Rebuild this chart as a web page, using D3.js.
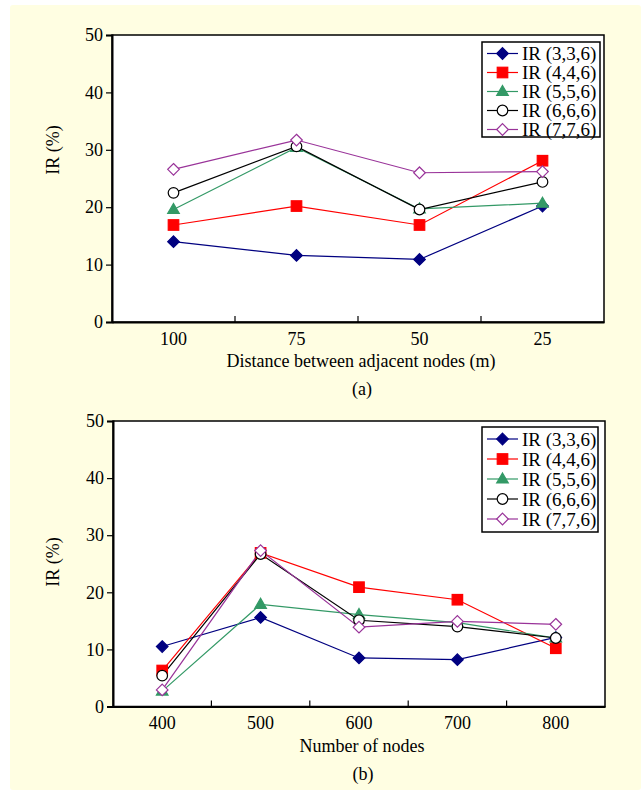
<!DOCTYPE html>
<html>
<head>
<meta charset="utf-8">
<script src="https://cdn.jsdelivr.net/npm/d3@7"></script>
<style>
  html, body { margin: 0; padding: 0; background: #ffffff; }
  svg { display: block; }
  text { font-family: "Liberation Serif", "Times New Roman", serif; fill: #000; }
</style>
</head>
<body>
<svg id="chart" width="641" height="791"></svg>
<script>
// ---- Data ----
const seriesNames = ["IR (3,3,6)", "IR (4,4,6)", "IR (5,5,6)", "IR (6,6,6)", "IR (7,7,6)"];
const yTicks = [0, 10, 20, 30, 40, 50];

const catsA = ["100", "75", "50", "25"];
const a336 = [14.0, 11.6, 10.9, 20.2];
const a446 = [16.9, 20.2, 16.9, 28.1];
const a556 = [19.6, 30.4, 19.7, 20.7];
const a666 = [22.5, 30.6, 19.6, 24.4];
const a776 = [26.6, 31.7, 26.0, 26.2];

const catsB = ["400", "500", "600", "700", "800"];
const b336 = [10.5, 15.6, 8.5, 8.2, 12.1];
const b446 = [6.3, 26.9, 20.9, 18.7, 10.2];
const b556 = [2.7, 17.9, 16.1, 14.7, 12.0];
const b666 = [5.4, 26.7, 15.1, 14.0, 12.0];
const b776 = [2.9, 27.3, 13.9, 14.9, 14.4];

// ---- Styles ----
const styles = [
  { color: "#000080", shape: "diamond", fill: "#000080" },
  { color: "#ff0000", shape: "square", fill: "#ff0000" },
  { color: "#339966", shape: "triangle", fill: "#339966" },
  { color: "#000000", shape: "circle", fill: "#ffffff" },
  { color: "#993399", shape: "diamond", fill: "#ffffff" }
];

const svg = d3.select("#chart");
svg.append("rect").attr("x", 10).attr("y", 5).attr("width", 631).attr("height", 785)
  .attr("rx", 3).attr("fill", "#fffee2");

function drawMarker(g, shape, cx, cy, color, fill) {
  let el;
  if (shape === "diamond") {
    const r = 5.8;
    el = g.append("path").attr("d", `M${cx},${cy - r}L${cx + r},${cy}L${cx},${cy + r}L${cx - r},${cy}Z`);
  } else if (shape === "square") {
    const s = 10.5;
    el = g.append("rect").attr("x", cx - s / 2).attr("y", cy - s / 2).attr("width", s).attr("height", s);
  } else if (shape === "triangle") {
    const w = 5.8, h = 10;
    el = g.append("path").attr("d", `M${cx},${cy - h * 0.6}L${cx + w},${cy + h * 0.4}L${cx - w},${cy + h * 0.4}Z`);
  } else {
    el = g.append("circle").attr("cx", cx).attr("cy", cy).attr("r", 5.3);
  }
  el.attr("fill", fill).attr("stroke", color).attr("stroke-width", 1.2);
}

function drawChart(cfg) {
  const { cats, data, left, right, top, bottom, xTitle, sub, legend } = cfg;
  const x = d3.scaleBand().domain(cats).range([left, right]).padding(0);
  const y = d3.scaleLinear().domain([0, 50]).range([bottom, top]);
  const g = svg.append("g");

  // plot area
  g.append("rect").attr("x", left).attr("y", top).attr("width", right - left).attr("height", bottom - top)
    .attr("fill", "#ffffff").attr("stroke", "#000").attr("stroke-width", 1.5);

  // y axis
  const yAxis = d3.axisLeft(y).tickValues(yTicks).tickSize(6).tickPadding(3).tickFormat(d3.format("d"));
  const ya = g.append("g").attr("transform", `translate(${left},0)`).call(yAxis);
  ya.select(".domain").attr("stroke-width", 2);
  ya.selectAll(".tick line").attr("stroke-width", 1.2);
  ya.selectAll("text").attr("font-size", 18).attr("font-family", "Liberation Serif");

  // x axis labels
  const xAxis = d3.axisBottom(x).tickSize(0).tickPadding(10);
  const xa = g.append("g").attr("transform", `translate(0,${bottom})`).call(xAxis);
  xa.select(".domain").attr("stroke-width", 2);
  xa.selectAll("text").attr("font-size", 18).attr("font-family", "Liberation Serif");
  // inward ticks between categories
  cats.slice(1).forEach(c => {
    g.append("line").attr("x1", x(c)).attr("x2", x(c)).attr("y1", bottom).attr("y2", bottom - 6)
      .attr("stroke", "#000").attr("stroke-width", 1.2);
  });

  // titles
  g.append("text").attr("x", (left + right) / 2 + 3).attr("y", bottom + 45).attr("text-anchor", "middle")
    .attr("font-size", 18).text(xTitle);
  g.append("text").attr("x", (left + right) / 2 + 4).attr("y", bottom + 73).attr("text-anchor", "middle")
    .attr("font-size", 18).text(sub);
  g.append("text").attr("transform", `translate(59,${cfg.yTitleY}) rotate(-90)`).attr("text-anchor", "middle")
    .attr("font-size", 18).text("IR (%)");

  // series
  const cx = d => x(d) + x.bandwidth() / 2;
  data.forEach((vals, i) => {
    const st = styles[i];
    const line = d3.line().x((v, j) => cx(cats[j])).y(v => y(v));
    g.append("path").attr("d", line(vals)).attr("fill", "none").attr("stroke", st.color).attr("stroke-width", 1.2);
  });
  data.forEach((vals, i) => {
    const st = styles[i];
    vals.forEach((v, j) => drawMarker(g, st.shape, cx(cats[j]), y(v), st.color, st.fill));
  });

  // legend
  const lg = g.append("g");
  lg.append("rect").attr("x", legend.x).attr("y", legend.y).attr("width", legend.w).attr("height", legend.h)
    .attr("fill", "#fff").attr("stroke", "#000").attr("stroke-width", 1.5);
  seriesNames.forEach((name, i) => {
    const st = styles[i];
    const ry = legend.y + legend.first + i * legend.step;
    lg.append("line").attr("x1", legend.x + 5).attr("x2", legend.x + 36).attr("y1", ry).attr("y2", ry)
      .attr("stroke", st.color).attr("stroke-width", 1.2);
    drawMarker(lg, st.shape, legend.x + 20.5, ry, st.color, st.fill);
    lg.append("text").attr("x", legend.x + 40).attr("y", ry + 6.5).attr("font-size", 19).text(name);
  });
}

drawChart({
  cats: catsA, data: [a336, a446, a556, a666, a776],
  left: 112, right: 604, top: 35, bottom: 322,
  xTitle: "Distance between adjacent nodes (m)", sub: "(a)", yTitleY: 150,
  legend: { x: 482, y: 42, w: 118, h: 95, first: 11.5, step: 19 }
});

drawChart({
  cats: catsB, data: [b336, b446, b556, b666, b776],
  left: 113, right: 605, top: 421, bottom: 706.5,
  xTitle: "Number of nodes", sub: "(b)", yTitleY: 562,
  legend: { x: 482, y: 427, w: 116, h: 105, first: 12, step: 20 }
});
</script>
</body>
</html>
